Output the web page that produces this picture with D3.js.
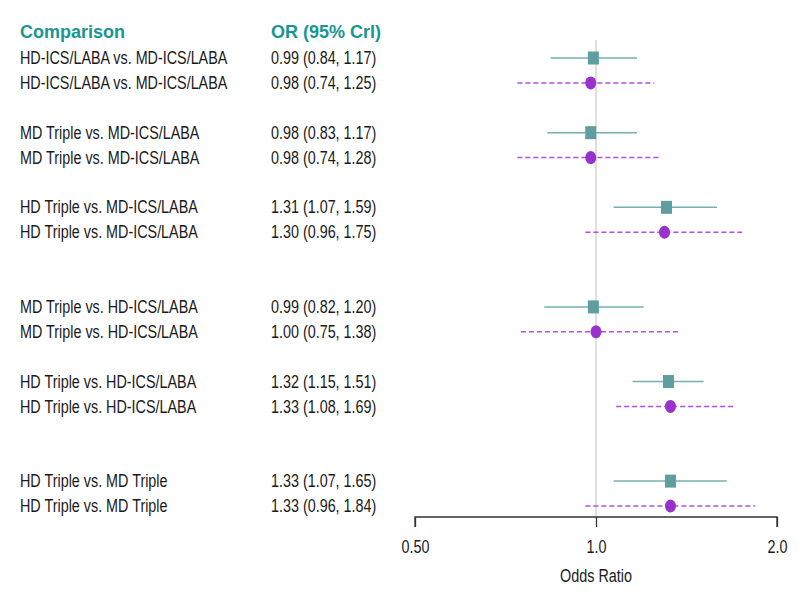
<!DOCTYPE html>
<html><head><meta charset="utf-8">
<script src="https://cdn.jsdelivr.net/npm/d3@7"></script>
<style>body{margin:0;background:#fff}</style>
</head><body>
<script>
const comparisons = ["HD-ICS/LABA vs. MD-ICS/LABA","HD-ICS/LABA vs. MD-ICS/LABA","MD Triple vs. MD-ICS/LABA","MD Triple vs. MD-ICS/LABA","HD Triple vs. MD-ICS/LABA","HD Triple vs. MD-ICS/LABA","MD Triple vs. HD-ICS/LABA","MD Triple vs. HD-ICS/LABA","HD Triple vs. HD-ICS/LABA","HD Triple vs. HD-ICS/LABA","HD Triple vs. MD Triple","HD Triple vs. MD Triple"];
const orValues = [0.99,0.98,0.98,0.98,1.31,1.30,0.99,1.00,1.32,1.33,1.33,1.33];
const lowerValues = [0.84,0.74,0.83,0.74,1.07,0.96,0.82,0.75,1.15,1.08,1.07,0.96];
const upperValues = [1.17,1.25,1.17,1.28,1.59,1.75,1.20,1.38,1.51,1.69,1.65,1.84];
const orLabels = ["0.99 (0.84, 1.17)","0.98 (0.74, 1.25)","0.98 (0.83, 1.17)","0.98 (0.74, 1.28)","1.31 (1.07, 1.59)","1.30 (0.96, 1.75)","0.99 (0.82, 1.20)","1.00 (0.75, 1.38)","1.32 (1.15, 1.51)","1.33 (1.08, 1.69)","1.33 (1.07, 1.65)","1.33 (0.96, 1.84)"];
const rowIndex = [0,1,3,4,6,7,10,11,13,14,17,18];
const model = ["fixed","random","fixed","random","fixed","random","fixed","random","fixed","random","fixed","random"];
const tickValues = [0.5,1,2];
const tickLabels = ["0.50","1.0","2.0"];

const data = comparisons.map((c,i)=>({c, or:orValues[i], lo:lowerValues[i], hi:upperValues[i], lab:orLabels[i], row:rowIndex[i], m:model[i]}));

const W=800,H=600;
const svg = d3.select("body").append("svg").attr("width",W).attr("height",H);
const x = d3.scaleLog().domain([0.5,2]).range([415,777]);
const y = d3.scaleLinear().domain([0,18]).range([58,506]);
const font = "'Liberation Sans',Arial,sans-serif";
const teal = "#17978f";
const squeeze = 0.82;

function condense(sel){
  sel.each(function(){
    const w = this.getComputedTextLength();
    this.setAttribute("textLength", w*squeeze);
    this.setAttribute("lengthAdjust","spacingAndGlyphs");
  });
}

// reference line
svg.append("line").attr("x1",x(1)).attr("x2",x(1)).attr("y1",40).attr("y2",517)
  .attr("stroke","#d4d4d4").attr("stroke-width",1.5);

// headers
svg.append("text").attr("x",20).attr("y",32).attr("dy","0.35em").text("Comparison")
  .attr("font-family",font).attr("font-weight","bold").attr("font-size",18).attr("fill",teal);
svg.append("text").attr("x",271).attr("y",32).attr("dy","0.35em").text("OR (95% Crl)")
  .attr("font-family",font).attr("font-weight","bold").attr("font-size",18).attr("fill",teal);

const rows = svg.selectAll("g.row").data(data).join("g").attr("class","row");
rows.append("text").attr("x",20).attr("y",d=>y(d.row)).attr("dy","0.35em").text(d=>d.c)
  .attr("font-family",font).attr("font-size",17.5).attr("fill","#1a1a1a").call(condense);
rows.append("text").attr("x",271).attr("y",d=>y(d.row)).attr("dy","0.35em").text(d=>d.lab)
  .attr("font-family",font).attr("font-size",17.5).attr("fill","#1a1a1a").call(condense);

rows.append("line").attr("x1",d=>x(d.lo)).attr("x2",d=>x(d.hi)).attr("y1",d=>y(d.row)).attr("y2",d=>y(d.row))
  .attr("stroke",d=>d.m==="fixed"?"#73b0b0":"#b24de6").attr("stroke-width",1.5)
  .attr("stroke-dasharray",d=>d.m==="fixed"?null:"5,3");

rows.filter(d=>d.m==="fixed").append("rect")
  .attr("x",d=>x(d.or)-5.5).attr("y",d=>y(d.row)-6.5).attr("width",11).attr("height",13)
  .attr("fill","#5f9ea0");
rows.filter(d=>d.m==="random").append("ellipse")
  .attr("cx",d=>x(d.or)).attr("cy",d=>y(d.row)).attr("rx",5.5).attr("ry",6.5)
  .attr("fill","#9932cc");

// axis
const axis = d3.axisBottom(x).tickValues(tickValues).tickFormat((d,i)=>tickLabels[i]).tickSize(10).tickPadding(14);
const ag = svg.append("g").attr("transform","translate(0,517)").call(axis);
ag.select(".domain").attr("stroke","#333").attr("stroke-width",1.3).attr("d",`M${x(0.5)},10V0H${x(2)}V10`);
ag.selectAll(".tick line").attr("stroke","#333").attr("stroke-width",1.3);
ag.selectAll(".tick text").attr("font-family",font).attr("font-size",17.5).attr("fill","#1a1a1a").call(condense);
svg.append("text").attr("x",x(1)).attr("y",576).attr("text-anchor","middle").attr("dy","0.35em")
  .text("Odds Ratio").attr("font-family",font).attr("font-size",17.5).attr("fill","#1a1a1a").call(condense);
</script>
</body></html>
